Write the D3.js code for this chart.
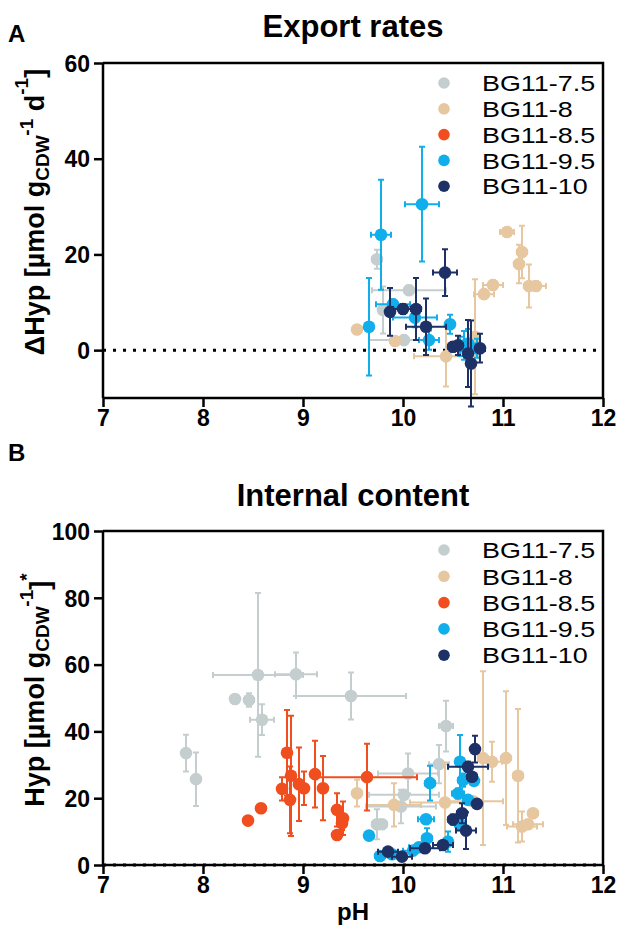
<!DOCTYPE html>
<html>
<head>
<meta charset="utf-8">
<script src="https://cdn.jsdelivr.net/npm/d3@7"></script>
<style>
  body { margin: 0; background: #fff; }
  svg { font-family: "Liberation Sans", Arial, sans-serif; }
</style>
</head>
<body>
<svg id="chart" width="619" height="943"></svg>
<script>
// groups + colours
var groups = ['BG11-7.5', 'BG11-8', 'BG11-8.5', 'BG11-9.5', 'BG11-10'];
var colors = ['#c5cecf', '#e6c7a0', '#f04e1e', '#10aeea', '#1e3166'];

var phTicks = [7, 8, 9, 10, 11, 12];
var exportTicks = [0, 20, 40, 60];
var contentTicks = [0, 20, 40, 60, 80, 100];

// rows: [pH, value, pH sd, value sd]
var exportBG75 = [[9.74, 19.0, 0.05, 2], [10.06, 12.5, 0.37, 1], [9.80, 8.4, 0.04, 4.9], [10.01, 2.1, 0.35, 1]];
var exportBG8 = [[9.54, 4.3, 0, 0], [9.92, 1.9, 0.05, 0.5], [10.43, -1.3, 0.32, 6.3], [10.72, 2.8, 0.05, 12],
  [10.81, 11.7, 0.1, 1], [10.90, 13.6, 0.1, 1], [11.04, 24.7, 0.07, 0.5], [11.19, 20.5, 0.05, 5.5],
  [11.16, 18.0, 0.05, 4], [11.26, 13.4, 0.05, 4.5], [11.33, 13.4, 0.1, 1]];
var exportBG85 = [];
var exportBG95 = [[9.66, 4.9, 0, 10.2], [9.78, 24.1, 0.1, 11.5], [10.19, 30.5, 0.17, 12], [9.90, 9.6, 0.17, 1],
  [10.12, 6.8, 0.22, 2], [10.26, 2.1, 0.1, 2], [10.47, 5.4, 0.03, 2], [10.57, 0.8, 0.05, 2],
  [10.61, 1.0, 0.05, 3], [10.65, 1.4, 0.05, 3], [10.74, 0.4, 0.03, 2]];
var exportBG10 = [[9.87, 8.0, 0.03, 5], [10.0, 8.6, 0.1, 1], [10.13, 8.6, 0.05, 6.5], [10.23, 4.9, 0.2, 5.9],
  [10.42, 16.2, 0.12, 4.9], [10.50, 0.7, 0.05, 1], [10.55, 1.0, 0.05, 2], [10.65, -0.7, 0.03, 7],
  [10.68, -2.8, 0.03, 9], [10.77, 0.4, 0.03, 3]];

var contentBG75 = [[7.83, 33.5, 0, 5.5], [7.93, 25.7, 0, 8], [8.32, 49.7, 0, 0], [8.46, 49.4, 0.05, 2],
  [8.55, 56.9, 0.45, 24.5], [8.59, 43.5, 0.12, 4.6], [8.93, 57.1, 0.21, 6.5], [9.48, 50.6, 0.55, 7],
  [9.74, 12.2, 0.05, 4.5], [9.79, 12.2, 0.05, 1], [9.98, 17.5, 0.35, 5], [10.01, 21.0, 0.35, 1],
  [10.05, 27.4, 0.3, 6], [10.36, 30.2, 0.1, 5.7], [10.43, 41.6, 0.07, 7.6]];
var contentBG8 = [[9.54, 21.5, 0, 4], [9.91, 18.0, 0.27, 6.5], [10.42, 18.7, 0.35, 12], [10.70, 19.1, 0.3, 1],
  [10.80, 32.0, 0.05, 26], [10.89, 30.9, 0.1, 6], [11.03, 32.0, 0.05, 20], [11.15, 26.7, 0.05, 20],
  [11.19, 11.5, 0.15, 4.5], [11.25, 12.2, 0.15, 1], [11.30, 15.5, 0.05, 1]];
var contentBG85 = [[8.45, 13.3, 0, 0], [8.58, 17.0, 0, 0], [8.79, 22.8, 0, 3.5], [8.84, 33.6, 0, 12.8],
  [8.88, 26.7, 0, 18], [8.87, 19.5, 0, 10], [8.96, 24.2, 0, 11], [9.01, 23.0, 0, 5],
  [9.12, 27.2, 0, 10], [9.20, 23.0, 0, 9.6], [9.34, 16.5, 0, 5], [9.40, 14.0, 0, 5],
  [9.39, 12.5, 0, 2], [9.34, 9.0, 0, 0], [9.64, 26.3, 0.5, 10]];
var contentBG95 = [[9.66, 8.8, 0, 0], [9.77, 2.7, 0.05, 1], [9.89, 3.2, 0.05, 1], [10.10, 4.3, 0.1, 1],
  [10.16, 5.3, 0.1, 1], [10.23, 13.7, 0.08, 1], [10.24, 8.0, 0.05, 3], [10.27, 24.5, 0.05, 5.2],
  [10.45, 7.0, 0.03, 3], [10.55, 21.4, 0.06, 1.5], [10.57, 12.2, 0.05, 1], [10.57, 30.9, 0.03, 8],
  [10.60, 25.4, 0.05, 2], [10.65, 19.5, 0.05, 1], [10.71, 25.2, 0.03, 1]];
var contentBG10 = [[9.85, 4.0, 0.1, 1], [9.99, 2.5, 0.1, 1], [10.22, 5.0, 0.15, 1], [10.40, 6.0, 0.1, 1],
  [10.50, 13.6, 0.05, 1.5], [10.59, 15.5, 0.05, 3], [10.63, 10.3, 0.1, 5.5], [10.65, 29.4, 0.2, 1.5],
  [10.69, 26.4, 0.05, 1], [10.72, 34.7, 0.03, 4], [10.74, 18.3, 0.03, 1]];

var svg = d3.select('#chart');

function drawPanel(opt) {
  var g = svg.append('g');
  var x = d3.scaleLinear().domain([7, 12]).range([103, 603]);
  var y = d3.scaleLinear().domain(opt.yDomain).range([opt.bottom, opt.top]);

  // frame top/right
  g.append('path')
    .attr('d', 'M' + x(7) + ',' + y.range()[1] + 'H' + x(12) + 'V' + y.range()[0])
    .attr('fill', 'none').attr('stroke', '#000').attr('stroke-width', 2.5);

  // zero line
  g.append('line')
    .attr('x1', x(7)).attr('x2', x(12)).attr('y1', y(0)).attr('y2', y(0))
    .attr('stroke', '#000').attr('stroke-width', 3)
    .attr('stroke-dasharray', '3,7');

  var cap = 3;
  opt.series.forEach(function(s, i) {
    var col = colors[i];
    var sg = g.append('g');
    var pts = sg.selectAll('.pt').data(s).enter().append('g').attr('class', 'pt');
    // x error
    pts.filter(function(d){ return d[2] > 0; }).each(function(d) {
      var e = d3.select(this);
      var x0 = x(d[0] - d[2]), x1 = x(d[0] + d[2]), yy = y(d[1]);
      e.append('path')
        .attr('d', 'M' + x0 + ',' + yy + 'H' + x1 +
          'M' + x0 + ',' + (yy - cap) + 'V' + (yy + cap) +
          'M' + x1 + ',' + (yy - cap) + 'V' + (yy + cap))
        .attr('stroke', col).attr('stroke-width', 2).attr('fill', 'none');
    });
    // y error
    pts.filter(function(d){ return d[3] > 0; }).each(function(d) {
      var e = d3.select(this);
      var y0 = y(d[1] - d[3]), y1 = y(d[1] + d[3]), xx = x(d[0]);
      e.append('path')
        .attr('d', 'M' + xx + ',' + y0 + 'V' + y1 +
          'M' + (xx - cap) + ',' + y0 + 'H' + (xx + cap) +
          'M' + (xx - cap) + ',' + y1 + 'H' + (xx + cap))
        .attr('stroke', col).attr('stroke-width', 2).attr('fill', 'none');
    });
    pts.append('circle')
      .attr('cx', function(d){ return x(d[0]); })
      .attr('cy', function(d){ return y(d[1]); })
      .attr('r', 6.3)
      .attr('fill', col);
  });

  // axes
  var axisX = d3.axisBottom(x).tickValues(phTicks).tickSize(9).tickFormat(d3.format('d'));
  var gx = g.append('g')
    .attr('transform', 'translate(0,' + opt.bottom + ')')
    .call(axisX);
  var axisY = d3.axisLeft(y).tickValues(opt.yTicks).tickSize(9);
  var gy = g.append('g')
    .attr('transform', 'translate(' + x(7) + ',0)')
    .call(axisY);
  [gx, gy].forEach(function(a) {
    a.select('.domain').attr('stroke-width', 2.5).attr('d',
      a === gx ? 'M' + x(7) + ',0H' + x(12) : 'M0,' + opt.bottom + 'V' + opt.top);
    a.selectAll('.tick line').attr('stroke-width', 2.5);
    a.selectAll('.tick text')
      .attr('font-size', 23).attr('font-weight', 'bold').attr('fill', '#000');
  });
  gx.selectAll('.tick text').attr('y', 10).attr('dy', '0.78em');
  gy.selectAll('.tick text').attr('x', -13).attr('dy', '0.36em');

  // title + letter
  g.append('text').attr('x', 353).attr('y', opt.titleY)
    .attr('text-anchor', 'middle').attr('font-size', 31).attr('font-weight', 'bold')
    .text(opt.title);
  g.append('text').attr('x', 8).attr('y', opt.letterY)
    .attr('font-size', 24).attr('font-weight', 'bold')
    .text(opt.letter);

  // y label
  var yl = g.append('text')
    .attr('transform', 'translate(' + opt.ylabX + ',' + opt.ylabY + ') rotate(-90)')
    .attr('text-anchor', 'middle').attr('font-size', 27).attr('font-weight', 'bold');
  opt.ylab.forEach(function(p) {
    var t = yl.append('tspan').text(p[0]);
    if (p[1] === 'sub') t.attr('font-size', 19).attr('dy', 5);
    else if (p[1] === 'sup') t.attr('font-size', 19).attr('dy', -16);
    else if (p[1] === 'base') t.attr('dy', 11);
    else if (p[1] === 'base2') t.attr('dy', 16);
  });

  // legend (text a bit wide, like the source figure)
  var lg = g.append('g');
  groups.forEach(function(name, i) {
    var ly = opt.legendY + i * opt.legendStep;
    lg.append('circle').attr('cx', 444).attr('cy', ly).attr('r', 5.8).attr('fill', colors[i]);
    lg.append('text')
      .attr('transform', 'translate(482,' + ly + ') scale(1.18,1)')
      .attr('dy', '0.36em')
      .attr('font-size', 22.8).text(name);
  });

  if (opt.xlabel) {
    g.append('text').attr('x', 353).attr('y', 920)
      .attr('text-anchor', 'middle').attr('font-size', 24).attr('font-weight', 'bold')
      .text(opt.xlabel);
  }
}

drawPanel({
  yDomain: [-10, 60], top: 63, bottom: 398, yTicks: exportTicks,
  series: [exportBG75, exportBG8, exportBG85, exportBG95, exportBG10],
  title: 'Export rates', titleY: 37, letter: 'A', letterY: 42,
  ylabX: 44, ylabY: 212,
  ylab: [['\u0394Hyp [\u00b5mol g', ''], ['CDW', 'sub'], ['-1', 'sup'], [' d', 'base'], ['-1', 'sup'], [']', 'base2']],
  legendY: 83, legendStep: 25.8
});

drawPanel({
  yDomain: [0, 100], top: 531, bottom: 865, yTicks: contentTicks,
  series: [contentBG75, contentBG8, contentBG85, contentBG95, contentBG10],
  title: 'Internal content', titleY: 506, letter: 'B', letterY: 461,
  ylabX: 44, ylabY: 690,
  ylab: [['Hyp [\u00b5mol g', ''], ['CDW', 'sub'], ['-1', 'sup'], [']', 'base2'], ['*', 'sup']],
  legendY: 550, legendStep: 26.3,
  xlabel: 'pH'
});
</script>
</body>
</html>
